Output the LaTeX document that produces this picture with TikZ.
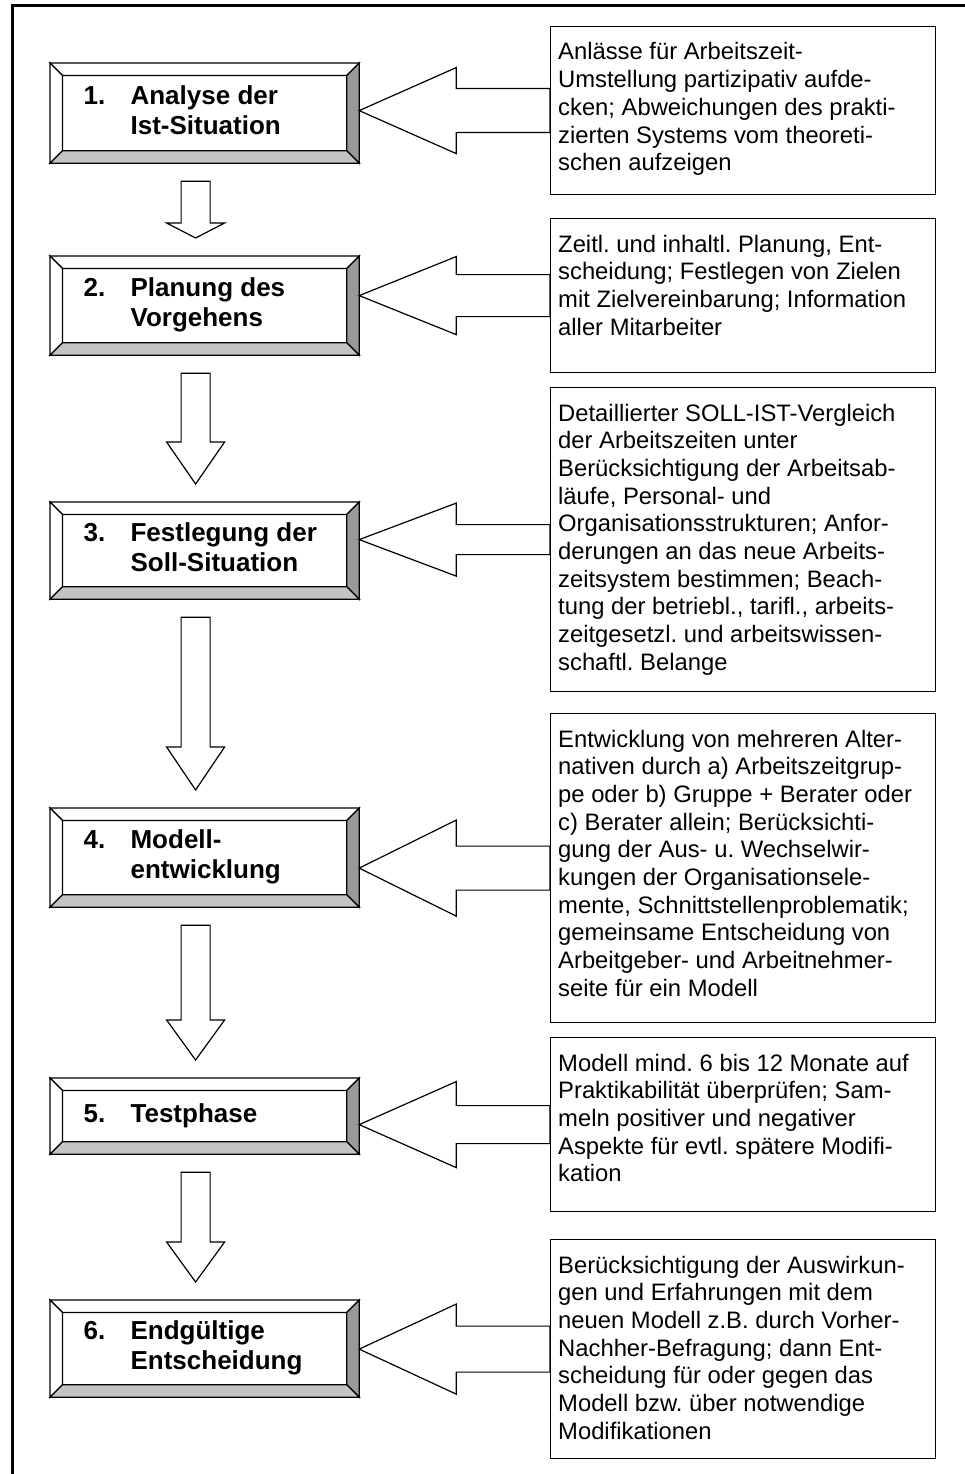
\documentclass[tikz,border=0pt]{standalone}
\usepackage{fontspec}
\setmainfont{Liberation Sans}
\usetikzlibrary{calc}
\frenchspacing

\definecolor{bevdark}{HTML}{999999}
\definecolor{bevlight}{HTML}{C4C4C4}

\tikzset{
  outline/.style={line width=1.2pt, line join=miter},
  phase/.style={outline, draw, fill=white, rectangle, anchor=north west,
    inner xsep=33pt, inner ysep=0pt, minimum width=308pt,
    font=\fontsize{26}{30}\selectfont\bfseries},
  bevelwhite/.style={outline, draw, fill=white},
  beveldark/.style={outline, draw, fill=bevdark},
  bevelgray/.style={outline, draw, fill=bevlight},
  note/.style={outline, draw, fill=white, rectangle, anchor=north west,
    inner sep=0pt, minimum width=385pt},
  notetext/.style={anchor=base west, inner sep=0pt,
    font=\fontsize{23.8}{27.7}\selectfont},
  flowarrow/.style={outline, draw, fill=white},
  frame/.style={line width=3pt},
}

% phase box with bevelled edge: name, top, height, number, title
\newcommand\phasebox[5]{%
  \node[phase, minimum height=#3pt] (#1) at (50,#2)
    {\makebox[242pt][l]{\begin{tabular}{@{}p{47pt}@{}l@{}}#4 & #5\end{tabular}}};
  \draw[bevelwhite] (#1.north west) -- (#1.north east)
    -- ($(#1.north east)+(-12.5,12.5)$) -- ($(#1.north west)+(12.5,12.5)$) -- cycle;
  \draw[bevelwhite] (#1.north west) -- ($(#1.north west)+(12.5,12.5)$)
    -- ($(#1.south west)+(12.5,-12.5)$) -- (#1.south west) -- cycle;
  \draw[beveldark] (#1.north east) -- (#1.south east)
    -- ($(#1.south east)+(-12.5,-12.5)$) -- ($(#1.north east)+(-12.5,12.5)$) -- cycle;
  \draw[bevelgray] (#1.south west) -- (#1.south east)
    -- ($(#1.south east)+(-12.5,-12.5)$) -- ($(#1.south west)+(12.5,-12.5)$) -- cycle;
}

% explanation box: name, top, height, lines
\newcommand\notebox[4]{%
  \node[note, minimum height=#3pt] (#1) at (550,#2) {};
  \node[notetext] (#1text) at ($(#1.north west)+(8,34)$)
    {\begin{tabular}[t]{@{}l@{}}#4\end{tabular}};
}

% block arrow from one phase down to the next: from, to, head length
\newcommand\flowdown[3]{%
  \draw[flowarrow] ($(#1.south)+(-23.5,18)$) -- ($(#1.south)+(5.5,18)$)
    -- ($(#2.north)+(5.5,-18-#3)$) -- ($(#2.north)+(20,-18-#3)$)
    -- ($(#2.north)+(-9,-18)$) -- ($(#2.north)+(-38,-18-#3)$)
    -- ($(#2.north)+(-23.5,-18-#3)$) -- cycle;
}

% block arrow from an explanation box to its phase: phase, note, shaft half, head half
\newcommand\callout[4]{%
  \coordinate (#2tip) at (#1.east |- #2.west);
  \draw[flowarrow] (#2tip) -- ++(97,-#4) -- ++(0,#4-#3)
    -- ($(#2.west)+(0,-#3)$) -- ($(#2.west)+(0,#3)$)
    -- ($(#2tip)+(97,#3)$) -- ++(0,#4-#3) -- cycle;
}

\begin{document}
\begin{tikzpicture}[x=1pt, y=-1pt]
\useasboundingbox (0,0) rectangle (965,1474);

% outer frame
\draw[frame] (12.5,1490) -- (12.5,5.5) -- (980,5.5);

% phases
\phasebox{p1}{63}{99}{1.}{Analyse der\\ & Ist-Situation}
\phasebox{p2}{256}{98}{2.}{Planung des\\ & Vorgehens}
\phasebox{p3}{502}{96}{3.}{Festlegung der\\ & Soll-Situation}
\phasebox{p4}{808}{98}{4.}{Modell-\\ & entwicklung}
\phasebox{p5}{1078}{75}{5.}{Testphase}
\phasebox{p6}{1300}{96}{6.}{Endgültige\\ & Entscheidung}

% explanations
\notebox{c1}{26}{168}{Anlässe für Arbeitszeit-\\Umstellung partizipativ aufde-\\cken; Abweichungen des prakti-\\zierten Systems vom theoreti-\\schen aufzeigen}
\notebox{c2}{218}{154}{Zeitl. und inhaltl. Planung, Ent-\\scheidung; Festlegen von Zielen\\mit Zielvereinbarung; Information\\aller Mitarbeiter}
\notebox{c3}{387}{304}{Detaillierter SOLL-IST-Vergleich\\der Arbeitszeiten unter\\Berücksichtigung der Arbeitsab-\\läufe, Personal- und\\Organisationsstrukturen; Anfor-\\derungen an das neue Arbeits-\\zeitsystem bestimmen; Beach-\\tung der betriebl., tarifl., arbeits-\\zeitgesetzl. und arbeitswissen-\\schaftl. Belange}
\notebox{c4}{713}{309}{Entwicklung von mehreren Alter-\\nativen durch a) Arbeitszeitgrup-\\pe oder b) Gruppe + Berater oder\\c) Berater allein; Berücksichti-\\gung der Aus- u. Wechselwir-\\kungen der Organisationsele-\\mente, Schnittstellenproblematik;\\gemeinsame Entscheidung von\\Arbeitgeber- und Arbeitnehmer-\\seite für ein Modell}
\notebox{c5}{1037}{174}{Modell mind. 6 bis 12 Monate auf\\Praktikabilität überprüfen; Sam-\\meln positiver und negativer\\Aspekte für evtl. spätere Modifi-\\kation}
\notebox{c6}{1239}{219}{Berücksichtigung der Auswirkun-\\gen und Erfahrungen mit dem\\neuen Modell z.B. durch Vorher-\\Nachher-Befragung; dann Ent-\\scheidung für oder gegen das\\Modell bzw. über notwendige\\Modifikationen}

% arrows between phases
\flowdown{p1}{p2}{15}
\flowdown{p2}{p3}{42}
\flowdown{p3}{p4}{43}
\flowdown{p4}{p5}{40}
\flowdown{p5}{p6}{40}

% arrows from explanations to phases
\callout{p1}{c1}{22}{43}
\callout{p2}{c2}{21}{39}
\callout{p3}{c3}{15}{36.5}
\callout{p4}{c4}{22}{48}
\callout{p5}{c5}{19}{43}
\callout{p6}{c6}{23}{45}
\end{tikzpicture}
\end{document}
